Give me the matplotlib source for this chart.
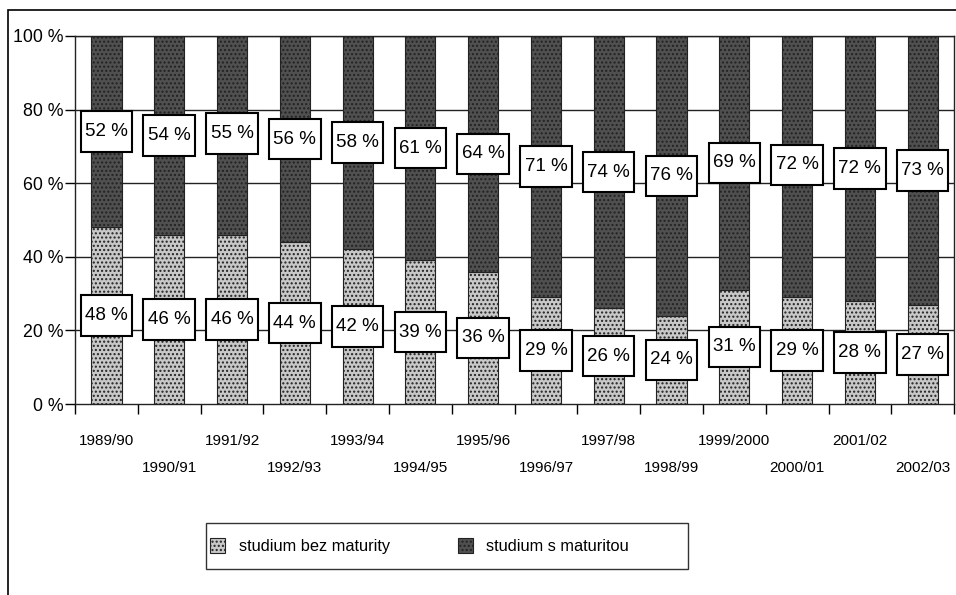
import matplotlib
matplotlib.use("Agg")
import matplotlib.pyplot as plt
from matplotlib.patches import Rectangle
from matplotlib.transforms import blended_transform_factory
import numpy as np

plt.rcParams["font.family"] = ["Liberation Sans", "DejaVu Sans"]
plt.rcParams["hatch.color"] = "#888888"

years = ["1989/90", "1990/91", "1991/92", "1992/93", "1993/94", "1994/95",
         "1995/96", "1996/97", "1997/98", "1998/99", "1999/2000", "2000/01",
         "2001/02", "2002/03"]
bez_maturity = [48, 46, 46, 44, 42, 39, 36, 29, 26, 24, 31, 29, 28, 27]
s_maturitou = [52, 54, 55, 56, 58, 61, 64, 71, 74, 76, 69, 72, 72, 73]
y_ticks = [0, 20, 40, 60, 80, 100]

light = "#c8c8c8"
dark = "#505050"

fig = plt.figure(figsize=(9.56, 5.95), dpi=100)
ax = fig.add_axes([0.0785, 0.321, 0.9195, 0.6185])

x = np.arange(len(years))
bez = np.array(bez_maturity)
smat = np.array(s_maturitou)

# gridlines under the bars
for v in y_ticks[1:]:
    ax.axhline(v, color="#222222", linewidth=1.0, zorder=1)

ax.bar(x, bez, width=0.48, color=light, edgecolor="#222222", linewidth=0.8,
       hatch="....", zorder=2, label="studium bez maturity")
ax.bar(x, smat, width=0.48, bottom=bez, color=dark, edgecolor="#222222",
       linewidth=0.8, hatch="....", zorder=2, label="studium s maturitou")

# value boxes at segment middles
bw, bh = 0.82, 11.0
for i in range(len(years)):
    for yc, val in ((bez[i] / 2, bez[i]), (bez[i] + smat[i] / 2, smat[i])):
        ax.add_patch(Rectangle((x[i] - bw / 2, yc - bh / 2), bw, bh,
                               facecolor="white", edgecolor="black",
                               linewidth=1.5, zorder=4, clip_on=False))
        ax.text(x[i], yc, f"{val} %", ha="center", va="center",
                fontsize=13.5, zorder=5)

ax.set_xlim(-0.5, len(years) - 0.5)
ax.set_ylim(0, 100)
ax.set_yticks(y_ticks)
ax.set_yticklabels([f"{v} %" for v in y_ticks], fontsize=12.8)
ax.tick_params(axis="y", length=7, width=1, pad=1)

# category boundary ticks, labels in two staggered rows
ax.set_xticks(np.arange(len(years) + 1) - 0.5)
ax.set_xticklabels([])
ax.tick_params(axis="x", length=7, width=1)
trans = blended_transform_factory(ax.transData, ax.transAxes)
for i, lab in enumerate(years):
    yy = -0.10 if i % 2 == 0 else -0.174
    ax.text(x[i], yy, lab, transform=trans, ha="center", va="center", fontsize=11)

for s in ax.spines.values():
    s.set_color("#222222")
    s.set_linewidth(1.0)

fig.legend(loc="center left", bbox_to_anchor=(210 / 956, 1 - 546 / 595), ncol=2,
           fontsize=11.8, frameon=False, borderpad=0, borderaxespad=0,
           handlelength=0.9, handleheight=1.0, columnspacing=4.15,
           handletextpad=0.85)
# legend frame
fig.patches.append(Rectangle((206 / 956, 1 - 569 / 595), 482 / 956, 46 / 595,
                             transform=fig.transFigure, fill=False,
                             edgecolor="#333333", linewidth=1.0))

# outer chart frame
fig.patches.append(Rectangle((8 / 956, -0.05), 1.0, 1 - 10 / 595 + 0.05,
                             transform=fig.transFigure, fill=False,
                             edgecolor="black", linewidth=1.2))

fig.savefig("out.png", dpi=100)
